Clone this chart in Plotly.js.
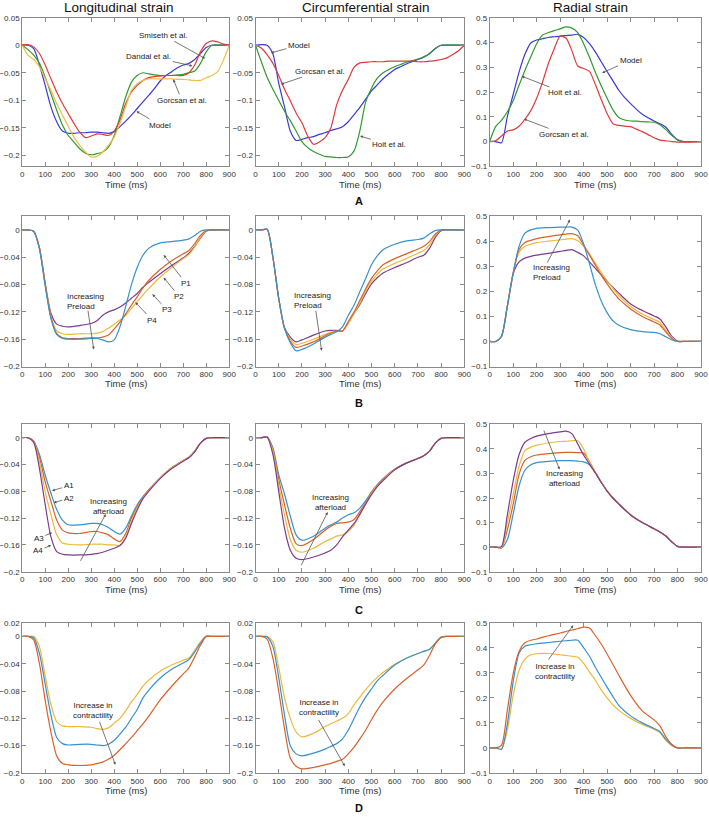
<!DOCTYPE html>
<html><head><meta charset="utf-8">
<script src="https://cdn.plot.ly/plotly-3.0.1.min.js"></script>
<style>html,body{margin:0;padding:0;background:#fff;}#chart{width:709px;height:817px;}</style>
</head><body><div id="chart"></div>
<script>
// ---------- DATA ----------
const TA = [0,25,50,75,100,125,150,175,200,225,250,275,300,325,350,375,400,425,450,475,500,525,550,575,600,625,650,675,700,725,750,775,800,825,850,875,900];
const T  = [0,25,50,75,100,125,150,175,200,250,300,325,350,375,400,425,450,475,500,525,550,600,650,700,725,750,775,800,825,850,900];

// Row A - Longitudinal
const A_long_model   = [0,0,-0.006,-0.036,-0.073,-0.112,-0.139,-0.156,-0.16,-0.16,-0.159,-0.159,-0.158,-0.158,-0.159,-0.16,-0.157,-0.148,-0.138,-0.127,-0.115,-0.103,-0.091,-0.079,-0.065,-0.055,-0.048,-0.041,-0.036,-0.033,-0.026,-0.015,-0.004,0,0,0,0];
const A_long_dandal  = [0.001,0.001,-0.003,-0.015,-0.036,-0.061,-0.085,-0.106,-0.124,-0.142,-0.158,-0.168,-0.165,-0.161,-0.162,-0.164,-0.156,-0.136,-0.106,-0.085,-0.073,-0.064,-0.059,-0.057,-0.056,-0.055,-0.055,-0.055,-0.055,-0.05,-0.036,-0.012,0.003,0.008,0.006,0.002,0];
const A_long_smiseth = [0,-0.008,-0.018,-0.033,-0.058,-0.088,-0.118,-0.145,-0.164,-0.176,-0.188,-0.196,-0.199,-0.197,-0.194,-0.185,-0.164,-0.13,-0.094,-0.067,-0.055,-0.05,-0.052,-0.054,-0.055,-0.055,-0.055,-0.054,-0.053,-0.05,-0.047,-0.033,-0.012,0,0,0,0];
const A_long_gorcsan = [0,-0.018,-0.026,-0.039,-0.061,-0.082,-0.106,-0.127,-0.147,-0.167,-0.182,-0.194,-0.203,-0.202,-0.194,-0.182,-0.167,-0.142,-0.112,-0.082,-0.07,-0.064,-0.061,-0.061,-0.061,-0.061,-0.061,-0.062,-0.062,-0.063,-0.064,-0.064,-0.059,-0.055,-0.048,-0.027,0];
// Row A - Circumferential
const A_circ_model   = [0,0.001,0,-0.016,-0.069,-0.112,-0.156,-0.173,-0.171,-0.168,-0.166,-0.162,-0.159,-0.155,-0.152,-0.148,-0.139,-0.126,-0.113,-0.098,-0.083,-0.072,-0.061,-0.052,-0.044,-0.039,-0.034,-0.03,-0.026,-0.022,-0.015,-0.006,0,0,0,0,0];
const A_circ_gorcsan = [0,-0.005,-0.017,-0.033,-0.055,-0.08,-0.101,-0.123,-0.141,-0.165,-0.18,-0.176,-0.168,-0.15,-0.108,-0.082,-0.062,-0.04,-0.032,-0.031,-0.03,-0.03,-0.03,-0.029,-0.029,-0.029,-0.029,-0.029,-0.03,-0.03,-0.029,-0.028,-0.026,-0.023,-0.017,-0.01,0];
const A_circ_hoit    = [0,-0.03,-0.058,-0.08,-0.1,-0.12,-0.137,-0.156,-0.175,-0.186,-0.193,-0.198,-0.202,-0.203,-0.204,-0.204,-0.203,-0.192,-0.155,-0.103,-0.078,-0.06,-0.05,-0.044,-0.039,-0.035,-0.031,-0.028,-0.025,-0.021,-0.016,-0.006,0,0,0,0,0];
// Row A - Radial
const A_rad_model    = [0,0,-0.005,0.1,0.19,0.28,0.352,0.398,0.41,0.415,0.42,0.423,0.426,0.428,0.43,0.433,0.42,0.395,0.362,0.322,0.283,0.245,0.207,0.177,0.153,0.13,0.11,0.096,0.083,0.072,0.058,0.03,0.006,0,0,0,0];
const A_rad_hoit     = [0,0.06,0.085,0.12,0.165,0.227,0.287,0.342,0.395,0.43,0.44,0.448,0.455,0.463,0.458,0.44,0.395,0.34,0.28,0.225,0.175,0.128,0.097,0.087,0.083,0.082,0.08,0.079,0.078,0.068,0.048,0.025,0.008,0,0,0,0];
const A_rad_gorcsan  = [0,0.003,0.022,0.042,0.047,0.062,0.09,0.125,0.175,0.24,0.315,0.375,0.425,0.418,0.367,0.305,0.295,0.283,0.23,0.17,0.113,0.072,0.065,0.062,0.06,0.05,0.04,0.028,0.015,0.006,0.003,0,-0.002,-0.002,-0.002,-0.001,0];

// Row B - preload P1..P4
const B_long_P1 = [0,0,-0.002,-0.028,-0.082,-0.13,-0.153,-0.159,-0.16,-0.16,-0.159,-0.159,-0.161,-0.164,-0.161,-0.142,-0.112,-0.08,-0.055,-0.037,-0.027,-0.019,-0.017,-0.015,-0.013,-0.008,-0.002,0,0,0,0];
const B_long_P2 = [0,0,-0.002,-0.027,-0.08,-0.128,-0.152,-0.158,-0.159,-0.159,-0.158,-0.158,-0.157,-0.154,-0.145,-0.135,-0.123,-0.11,-0.098,-0.085,-0.074,-0.058,-0.045,-0.035,-0.03,-0.02,-0.008,-0.001,0,0,0];
const B_long_P3 = [0,0,-0.002,-0.026,-0.078,-0.126,-0.148,-0.152,-0.153,-0.152,-0.152,-0.151,-0.149,-0.144,-0.138,-0.132,-0.125,-0.115,-0.105,-0.095,-0.086,-0.069,-0.055,-0.042,-0.036,-0.025,-0.011,-0.002,0,0,0];
const B_long_P4 = [0,0,-0.002,-0.026,-0.078,-0.122,-0.138,-0.141,-0.142,-0.14,-0.137,-0.133,-0.125,-0.12,-0.117,-0.113,-0.107,-0.1,-0.093,-0.084,-0.077,-0.064,-0.052,-0.041,-0.034,-0.024,-0.012,-0.002,0,0,0];
const B_circ_P1 = [0,0,0.001,-0.04,-0.1,-0.144,-0.165,-0.177,-0.175,-0.167,-0.157,-0.153,-0.149,-0.142,-0.125,-0.11,-0.09,-0.071,-0.051,-0.038,-0.029,-0.021,-0.016,-0.014,-0.012,-0.006,-0.001,0,0,0,0];
const B_circ_P2 = [0,0,0.001,-0.04,-0.1,-0.144,-0.163,-0.172,-0.17,-0.164,-0.155,-0.151,-0.148,-0.148,-0.134,-0.12,-0.103,-0.086,-0.071,-0.06,-0.051,-0.042,-0.035,-0.028,-0.024,-0.017,-0.006,0,0,0,0];
const B_circ_P3 = [0,0,0.001,-0.04,-0.1,-0.144,-0.16,-0.168,-0.166,-0.16,-0.153,-0.15,-0.148,-0.148,-0.137,-0.122,-0.107,-0.089,-0.075,-0.065,-0.057,-0.049,-0.042,-0.034,-0.03,-0.022,-0.008,0,0,0,0];
const B_circ_P4 = [0,0,0.001,-0.04,-0.1,-0.143,-0.157,-0.164,-0.161,-0.154,-0.148,-0.147,-0.147,-0.148,-0.136,-0.122,-0.109,-0.093,-0.079,-0.07,-0.063,-0.055,-0.048,-0.04,-0.037,-0.027,-0.011,-0.001,0,0,0];
const B_rad_P1  = [0,0,0.02,0.14,0.273,0.38,0.433,0.446,0.452,0.455,0.457,0.457,0.457,0.445,0.39,0.31,0.227,0.162,0.115,0.082,0.065,0.047,0.039,0.036,0.031,0.019,0.007,0,0,0,0];
const B_rad_P2  = [0,0,0.02,0.14,0.273,0.367,0.395,0.404,0.411,0.419,0.426,0.429,0.431,0.422,0.385,0.345,0.305,0.265,0.23,0.198,0.17,0.13,0.1,0.078,0.066,0.038,0.013,0,0,0,0];
const B_rad_P3  = [0,0,0.02,0.14,0.273,0.357,0.38,0.389,0.395,0.401,0.406,0.409,0.411,0.402,0.38,0.35,0.312,0.275,0.243,0.212,0.183,0.14,0.11,0.088,0.076,0.045,0.017,0,0,0,0];
const B_rad_P4  = [0,0,0.02,0.14,0.27,0.318,0.333,0.34,0.345,0.352,0.36,0.364,0.367,0.356,0.342,0.318,0.292,0.266,0.24,0.216,0.193,0.15,0.124,0.102,0.09,0.058,0.021,0.002,0,0,0];

// Row C - afterload A1..A4
const C_long_A1 = [0,0,-0.005,-0.025,-0.056,-0.083,-0.107,-0.123,-0.13,-0.13,-0.128,-0.128,-0.13,-0.134,-0.14,-0.144,-0.135,-0.117,-0.1,-0.088,-0.078,-0.06,-0.045,-0.034,-0.029,-0.02,-0.008,-0.001,0,0,0];
const C_long_A2 = [0,0,-0.005,-0.029,-0.066,-0.095,-0.123,-0.138,-0.142,-0.143,-0.14,-0.14,-0.142,-0.145,-0.151,-0.155,-0.143,-0.12,-0.103,-0.089,-0.078,-0.06,-0.045,-0.034,-0.029,-0.02,-0.008,-0.001,0,0,0];
const C_long_A3 = [0,0,-0.006,-0.036,-0.081,-0.115,-0.145,-0.157,-0.159,-0.16,-0.159,-0.159,-0.159,-0.16,-0.16,-0.161,-0.148,-0.125,-0.105,-0.09,-0.079,-0.06,-0.045,-0.034,-0.029,-0.02,-0.008,-0.001,0,0,0];
const C_long_A4 = [0,0,-0.007,-0.046,-0.1,-0.148,-0.17,-0.174,-0.175,-0.175,-0.174,-0.173,-0.171,-0.168,-0.165,-0.161,-0.15,-0.128,-0.108,-0.091,-0.08,-0.061,-0.046,-0.035,-0.03,-0.021,-0.008,-0.001,0,0,0];
const C_circ_A1 = [0,0,0.001,-0.015,-0.055,-0.084,-0.117,-0.145,-0.153,-0.147,-0.135,-0.13,-0.126,-0.12,-0.115,-0.112,-0.105,-0.094,-0.081,-0.07,-0.061,-0.047,-0.038,-0.031,-0.027,-0.02,-0.008,-0.001,0,0,0];
const C_circ_A2 = [0,0,0.001,-0.018,-0.062,-0.1,-0.135,-0.158,-0.161,-0.152,-0.138,-0.132,-0.128,-0.127,-0.126,-0.122,-0.11,-0.097,-0.082,-0.071,-0.062,-0.047,-0.038,-0.031,-0.027,-0.02,-0.008,-0.001,0,0,0];
const C_circ_A3 = [0,0,0.001,-0.02,-0.07,-0.115,-0.152,-0.168,-0.171,-0.165,-0.155,-0.151,-0.147,-0.145,-0.14,-0.13,-0.115,-0.099,-0.083,-0.072,-0.063,-0.048,-0.038,-0.031,-0.027,-0.02,-0.008,-0.001,0,0,0];
const C_circ_A4 = [0,0,0.001,-0.025,-0.08,-0.135,-0.168,-0.18,-0.182,-0.178,-0.172,-0.168,-0.16,-0.148,-0.138,-0.128,-0.114,-0.099,-0.085,-0.073,-0.064,-0.048,-0.038,-0.031,-0.027,-0.02,-0.008,-0.001,0,0,0];
const C_rad_A1  = [0,0,-0.003,0.03,0.135,0.249,0.313,0.335,0.344,0.349,0.352,0.352,0.352,0.35,0.347,0.335,0.303,0.265,0.229,0.2,0.176,0.132,0.1,0.075,0.062,0.045,0.022,0.003,0,0,0];
const C_rad_A2  = [0,0,-0.003,0.07,0.175,0.296,0.353,0.368,0.375,0.381,0.385,0.386,0.386,0.385,0.383,0.348,0.304,0.265,0.229,0.2,0.176,0.132,0.1,0.075,0.062,0.045,0.022,0.003,0,0,0];
const C_rad_A3  = [0,0,-0.002,0.1,0.215,0.329,0.393,0.407,0.415,0.424,0.43,0.431,0.433,0.433,0.4,0.345,0.304,0.265,0.229,0.2,0.176,0.132,0.1,0.075,0.062,0.045,0.022,0.003,0,0,0];
const C_rad_A4  = [0,0,0.002,0.13,0.27,0.376,0.427,0.442,0.452,0.462,0.469,0.472,0.462,0.42,0.375,0.338,0.302,0.263,0.228,0.199,0.175,0.131,0.1,0.075,0.062,0.045,0.022,0.003,0,0,0];

// Row D - contractility (low / mid / high)
const D_long_low  = [0,0,0,-0.015,-0.058,-0.1,-0.125,-0.131,-0.132,-0.132,-0.133,-0.135,-0.136,-0.134,-0.127,-0.12,-0.109,-0.096,-0.085,-0.073,-0.064,-0.051,-0.042,-0.035,-0.032,-0.02,-0.008,0,0,0,0];
const D_long_mid  = [0,0,-0.002,-0.025,-0.07,-0.115,-0.148,-0.157,-0.159,-0.158,-0.158,-0.159,-0.16,-0.158,-0.152,-0.143,-0.133,-0.12,-0.107,-0.09,-0.079,-0.061,-0.048,-0.039,-0.034,-0.023,-0.01,0,0,0,0];
const D_long_high = [0,0,-0.005,-0.04,-0.094,-0.14,-0.175,-0.186,-0.188,-0.189,-0.188,-0.186,-0.184,-0.18,-0.174,-0.166,-0.157,-0.148,-0.138,-0.128,-0.117,-0.093,-0.073,-0.055,-0.046,-0.03,-0.013,0,0,0,0];
const D_circ_low  = [0,0,0,-0.008,-0.045,-0.09,-0.12,-0.14,-0.147,-0.142,-0.132,-0.128,-0.124,-0.12,-0.113,-0.1,-0.089,-0.078,-0.068,-0.06,-0.053,-0.041,-0.032,-0.025,-0.022,-0.019,-0.01,-0.001,0,0,0];
const D_circ_mid  = [0,0,-0.001,-0.015,-0.06,-0.115,-0.16,-0.172,-0.175,-0.171,-0.165,-0.161,-0.157,-0.15,-0.137,-0.12,-0.103,-0.089,-0.077,-0.065,-0.057,-0.042,-0.032,-0.025,-0.022,-0.019,-0.01,-0.001,0,0,0];
const D_circ_high = [0,0,-0.004,-0.032,-0.08,-0.135,-0.178,-0.19,-0.194,-0.192,-0.188,-0.186,-0.183,-0.18,-0.172,-0.162,-0.15,-0.137,-0.122,-0.108,-0.096,-0.077,-0.062,-0.049,-0.042,-0.028,-0.011,-0.002,0,0,0];
const D_rad_low   = [0,0,-0.005,0.07,0.21,0.31,0.355,0.372,0.376,0.377,0.372,0.369,0.366,0.362,0.338,0.303,0.27,0.232,0.2,0.172,0.15,0.118,0.094,0.074,0.062,0.03,0.01,0,0,0,0];
const D_rad_mid   = [0,0,-0.005,0.095,0.265,0.378,0.406,0.412,0.416,0.421,0.426,0.428,0.43,0.43,0.4,0.366,0.322,0.282,0.243,0.205,0.17,0.128,0.1,0.078,0.065,0.035,0.012,0,0,0,0];
const D_rad_high  = [0,0,0.01,0.15,0.297,0.385,0.42,0.43,0.435,0.448,0.459,0.465,0.471,0.476,0.482,0.479,0.449,0.415,0.375,0.333,0.29,0.21,0.148,0.112,0.088,0.045,0.015,0,0,0,0];

// tick labels
const X_TICKS = [0,100,200,300,400,500,600,700,800,900];
const Y_TICKS_A = [0.05,0,-0.05,-0.1,-0.15,-0.2];
const Y_TEXT_A  = ['0.05','0','\u22120.05','\u22120.1','\u22120.15','\u22120.2'];
const Y_TICKS_R = [0.5,0.4,0.3,0.2,0.1,0,-0.1];
const Y_TEXT_R  = ['0.5','0.4','0.3','0.2','0.1','0','\u22120.1'];
const Y_TICKS_BC = [0,-0.04,-0.08,-0.12,-0.16,-0.2];
const Y_TEXT_BC  = ['0','\u22120.04','\u22120.08','\u22120.12','\u22120.16','\u22120.2'];
const Y_TICKS_D = [0.02,0,-0.04,-0.08,-0.12,-0.16,-0.2];
const Y_TEXT_D  = ['0.02','0','\u22120.04','\u22120.08','\u22120.12','\u22120.16','\u22120.2'];
const COL_TITLES = ['Longitudinal strain','Circumferential strain','Radial strain'];
const ROW_LETTERS = ['A','B','C','D'];

// ---------- STYLE / LAYOUT ----------
const W = 709, H = 817;
const FONT = 'Liberation Sans, Arial, sans-serif';
const COLS = [[22.2,229.2],[255.5,464.3],[489.7,701]];
const ROWS = [[17.7,166.3],[216.3,366.5],[424.3,571.7],[622.7,773]];
const cBlue='#3a3ad2', cGreen='#309a30', cRed='#e03a3a', cYel='#efbe48';
const mBlue='#3692cc', mOrange='#d9622b', mYellow='#ecb93a', mPurple='#7d3b8e';

const panels = [
  {series:[[TA,A_long_model,cBlue],[TA,A_long_smiseth,cGreen],[TA,A_long_dandal,cRed],[TA,A_long_gorcsan,cYel]], yr:[-0.22,0.05], yt:Y_TICKS_A, ytt:Y_TEXT_A},
  {series:[[TA,A_circ_model,cBlue],[TA,A_circ_hoit,cGreen],[TA,A_circ_gorcsan,cRed]], yr:[-0.22,0.05], yt:Y_TICKS_A, ytt:Y_TEXT_A},
  {series:[[TA,A_rad_model,cBlue],[TA,A_rad_hoit,cGreen],[TA,A_rad_gorcsan,cRed]], yr:[-0.1,0.5], yt:Y_TICKS_R, ytt:Y_TEXT_R},
  {series:[[T,B_long_P4,mPurple],[T,B_long_P3,mYellow],[T,B_long_P2,mOrange],[T,B_long_P1,mBlue]], yr:[-0.2,0.02], yt:Y_TICKS_BC, ytt:Y_TEXT_BC},
  {series:[[T,B_circ_P4,mPurple],[T,B_circ_P3,mYellow],[T,B_circ_P2,mOrange],[T,B_circ_P1,mBlue]], yr:[-0.2,0.02], yt:Y_TICKS_BC, ytt:Y_TEXT_BC},
  {series:[[T,B_rad_P4,mPurple],[T,B_rad_P3,mYellow],[T,B_rad_P2,mOrange],[T,B_rad_P1,mBlue]], yr:[-0.1,0.5], yt:Y_TICKS_R, ytt:Y_TEXT_R},
  {series:[[T,C_long_A1,mBlue],[T,C_long_A2,mOrange],[T,C_long_A3,mYellow],[T,C_long_A4,mPurple]], yr:[-0.2,0.02], yt:Y_TICKS_BC, ytt:Y_TEXT_BC},
  {series:[[T,C_circ_A1,mBlue],[T,C_circ_A2,mOrange],[T,C_circ_A3,mYellow],[T,C_circ_A4,mPurple]], yr:[-0.2,0.02], yt:Y_TICKS_BC, ytt:Y_TEXT_BC},
  {series:[[T,C_rad_A1,mBlue],[T,C_rad_A2,mOrange],[T,C_rad_A3,mYellow],[T,C_rad_A4,mPurple]], yr:[-0.1,0.5], yt:Y_TICKS_R, ytt:Y_TEXT_R},
  {series:[[T,D_long_low,mYellow],[T,D_long_mid,mBlue],[T,D_long_high,mOrange]], yr:[-0.2,0.02], yt:Y_TICKS_D, ytt:Y_TEXT_D},
  {series:[[T,D_circ_low,mYellow],[T,D_circ_mid,mBlue],[T,D_circ_high,mOrange]], yr:[-0.2,0.02], yt:Y_TICKS_D, ytt:Y_TEXT_D},
  {series:[[T,D_rad_low,mYellow],[T,D_rad_mid,mBlue],[T,D_rad_high,mOrange]], yr:[-0.1,0.5], yt:Y_TICKS_R, ytt:Y_TEXT_R}
];

const traces = [];
const layout = {
  width:W, height:H, margin:{l:0,r:0,t:0,b:0}, paper_bgcolor:'#fff', plot_bgcolor:'#fff',
  showlegend:false, font:{family:FONT, color:'#333'}, annotations:[]
};
const axBase = {showline:true, linecolor:'#8a8a8a', linewidth:1, mirror:'ticks', ticks:'inside', ticklen:4,
  tickcolor:'#8a8a8a', tickwidth:1, showgrid:false, zeroline:false, fixedrange:true,
  tickfont:{family:FONT, size:8, color:'#333'}};

panels.forEach((p,i)=>{
  const n=i+1, r=Math.floor(i/3), c=i%3;
  const xs = n===1?'':n;
  layout['xaxis'+xs] = Object.assign({}, axBase, {domain:[COLS[c][0]/W, COLS[c][1]/W], range:[0,900],
    tickmode:'array', tickvals:X_TICKS, anchor:'y'+xs});
  layout['yaxis'+xs] = Object.assign({}, axBase, {domain:[1-ROWS[r][1]/H, 1-ROWS[r][0]/H], range:p.yr,
    tickmode:'array', tickvals:p.yt, ticktext:p.ytt, anchor:'x'+xs});
  p.series.forEach(s=>traces.push({x:s[0], y:s[1], type:'scatter', mode:'lines', xaxis:'x'+xs, yaxis:'y'+xs,
    line:{color:s[2], width:1.2, shape:'spline', smoothing:0.7}, hoverinfo:'skip'}));
});

const AF = {family:FONT, size:8, color:'#222'};
function lab(n, text, tx, ty, hx, hy, align){
  const s = n===1?'':n;
  layout.annotations.push({xref:'x'+s, yref:'y'+s, axref:'x'+s, ayref:'y'+s, x:hx, y:hy, ax:tx, ay:ty,
    text:text, showarrow:true, arrowhead:2, arrowsize:0.7, arrowwidth:0.8, arrowcolor:'#555', standoff:0,
    font:AF, align:align||'center'});
}
function txt(n, text, tx, ty, align){
  const s = n===1?'':n;
  layout.annotations.push({xref:'x'+s, yref:'y'+s, x:tx, y:ty, text:text, showarrow:false, font:AF, align:align||'center'});
}
function arr(n, tx, ty, hx, hy){ lab(n, '', tx, ty, hx, hy); }

// Row A
lab(1,'Smiseth et al.',614,0.018,795,-0.024);
lab(1,'Dandal et al.',550,-0.02,740,-0.0376);
lab(1,'Gorcsan et al.',694,-0.1,657,-0.062);
lab(1,'Model',598,-0.145,497,-0.12);
lab(2,'Model',187,0,67,-0.014);
lab(2,'Gorcsan et al.',277,-0.047,110,-0.071);
lab(2,'Hoit et al.',577,-0.181,451,-0.165);
lab(3,'Model',600,0.329,479,0.277);
lab(3,'Hoit et al.',320,0.196,136,0.264);
lab(3,'Gorcsan et al.',318,0.029,146,0.091);
// Row B
txt(4,'Increasing<br>Preload',275,-0.105,'left');
arr(4,285,-0.116,311,-0.175);
lab(4,'P1',712,-0.078,615,-0.0366);
lab(4,'P2',683,-0.0976,615,-0.0698);
lab(4,'P3',629,-0.117,566,-0.094);
lab(4,'P4',566,-0.132,492,-0.106);
txt(5,'Increasing<br>Preload',245,-0.104,'left');
arr(5,259,-0.116,285,-0.177);
txt(6,'Increasing<br>Preload',263,0.276,'left');
arr(6,242,0.309,342,0.487);
// Row C
lab(7,'A1',202,-0.072,130,-0.079);
lab(7,'A2',202,-0.0905,137,-0.097);
lab(7,'A3',72,-0.15,130,-0.1417);
lab(7,'A4',69,-0.1685,126,-0.1605);
txt(7,'Increasing<br>afterload',376,-0.103);
arr(7,250,-0.186,363,-0.114);
txt(8,'Increasing<br>afterload',323,-0.0968);
arr(8,194,-0.1926,311,-0.111);
txt(9,'Increasing<br>afterload',317,0.28);
arr(9,228,0.481,298,0.316);
// Row D
txt(10,'Increase in<br>contractility',306,-0.109);
arr(10,334,-0.123,405,-0.188);
txt(11,'Increase in<br>contractility',274,-0.104);
arr(11,268,-0.12,385,-0.19);
txt(12,'Increase in<br>contractility',276,0.3046);
arr(12,246,0.347,356,0.49);

// Paper-level texts
const titleX = [118.6, 365.5, 590];
COL_TITLES.forEach((t,c)=>layout.annotations.push({xref:'paper',yref:'paper',x:titleX[c]/W,y:1-7.5/H,text:t,showarrow:false,
  xanchor:'center',yanchor:'middle',font:{family:FONT,size:13.5,color:'#111'}}));
const timeY = [184, 383.5, 589, 790];
const letterY = [201, 402.5, 610, 808];
ROWS.forEach((r,ri)=>{
  COLS.forEach(c=>layout.annotations.push({xref:'paper',yref:'paper',x:((c[0]+c[1])/2)/W,y:1-timeY[ri]/H,text:'Time (ms)',
    showarrow:false,xanchor:'center',yanchor:'middle',font:{family:FONT,size:9.5,color:'#333'}}));
  layout.annotations.push({xref:'paper',yref:'paper',x:358.7/W,y:1-letterY[ri]/H,text:'<b>'+ROW_LETTERS[ri]+'</b>',
    showarrow:false,xanchor:'center',yanchor:'middle',font:{family:FONT,size:11,color:'#111'}});
});

Plotly.newPlot('chart', traces, layout, {staticPlot:true, displayModeBar:false});
</script></body></html>
